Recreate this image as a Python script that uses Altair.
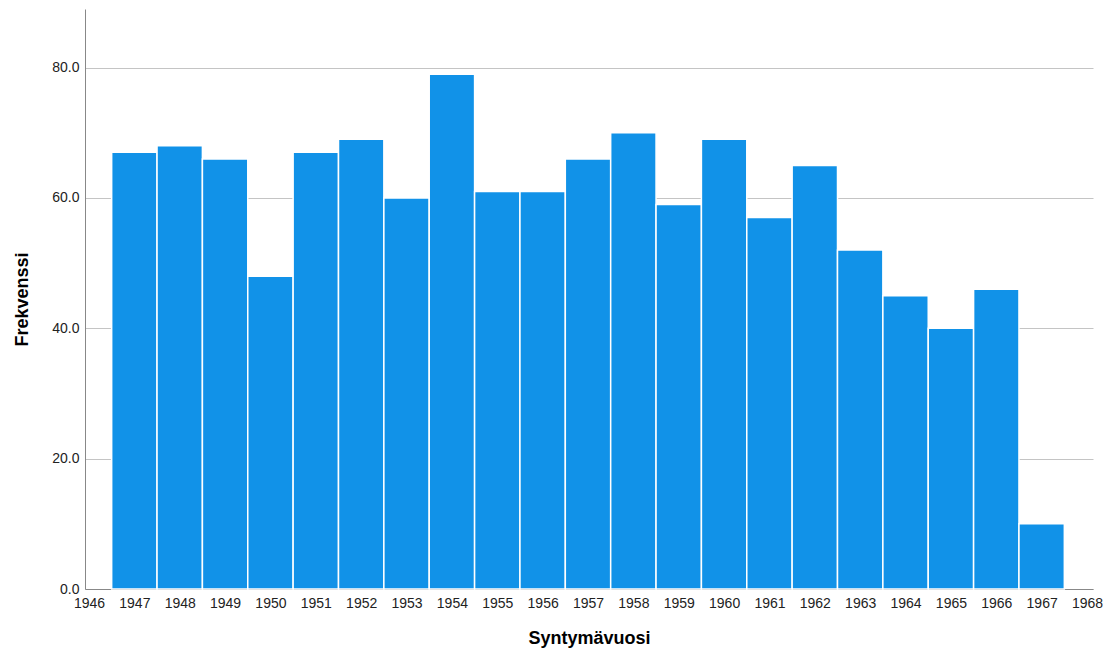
import altair as alt
import pandas as pd

years = list(range(1947, 1968))
counts = [67, 68, 66, 48, 67, 69, 60, 79, 61, 61, 66, 70, 59, 69, 57, 65, 52, 45, 40, 46, 10]
x_ticks = list(range(1946, 1969))
y_ticks = [0, 20, 40, 60, 80]

df = pd.DataFrame({"year": years, "count": counts})
df["x0"] = df["year"] - 0.5
df["x1"] = df["year"] + 0.5

chart = alt.Chart(df).mark_rect(
    color="#1192e8", stroke="white", strokeWidth=1.5
).encode(
    x=alt.X("x0:Q",
            scale=alt.Scale(domain=[1945.912, 1968.132], nice=False, zero=False),
            axis=alt.Axis(values=x_ticks, format="d", title="Syntymävuosi",
                          grid=False, ticks=False, labelPadding=7,
                          labelFont="Liberation Sans", labelFontSize=14,
                          labelColor="#222222", domainColor="#888888",
                          titleFont="Liberation Sans", titleFontSize=18,
                          titleFontWeight="bold", titleColor="#000000",
                          titlePadding=19, labelFlush=False)),
    x2="x1:Q",
    y=alt.Y("count:Q",
            scale=alt.Scale(domain=[0, 89], nice=False),
            axis=alt.Axis(values=y_ticks, format=".1f", title="Frekvenssi",
                          grid=True, gridColor="#c4c4c4", gridWidth=1,
                          ticks=False, labelPadding=6,
                          labelFont="Liberation Sans", labelFontSize=14,
                          labelColor="#222222", domainColor="#888888",
                          titleFont="Liberation Sans", titleFontSize=18,
                          titleFontWeight="bold", titleColor="#000000",
                          titlePadding=20, labelFlush=False)),
).properties(
    width=1008, height=580,
    autosize=alt.AutoSizeParams(type="none"),
    padding={"left": 77, "top": 1, "right": 11, "bottom": 60},
).configure_view(stroke=None)

chart.save("out.html", embed_options={"renderer": "svg", "actions": False})
